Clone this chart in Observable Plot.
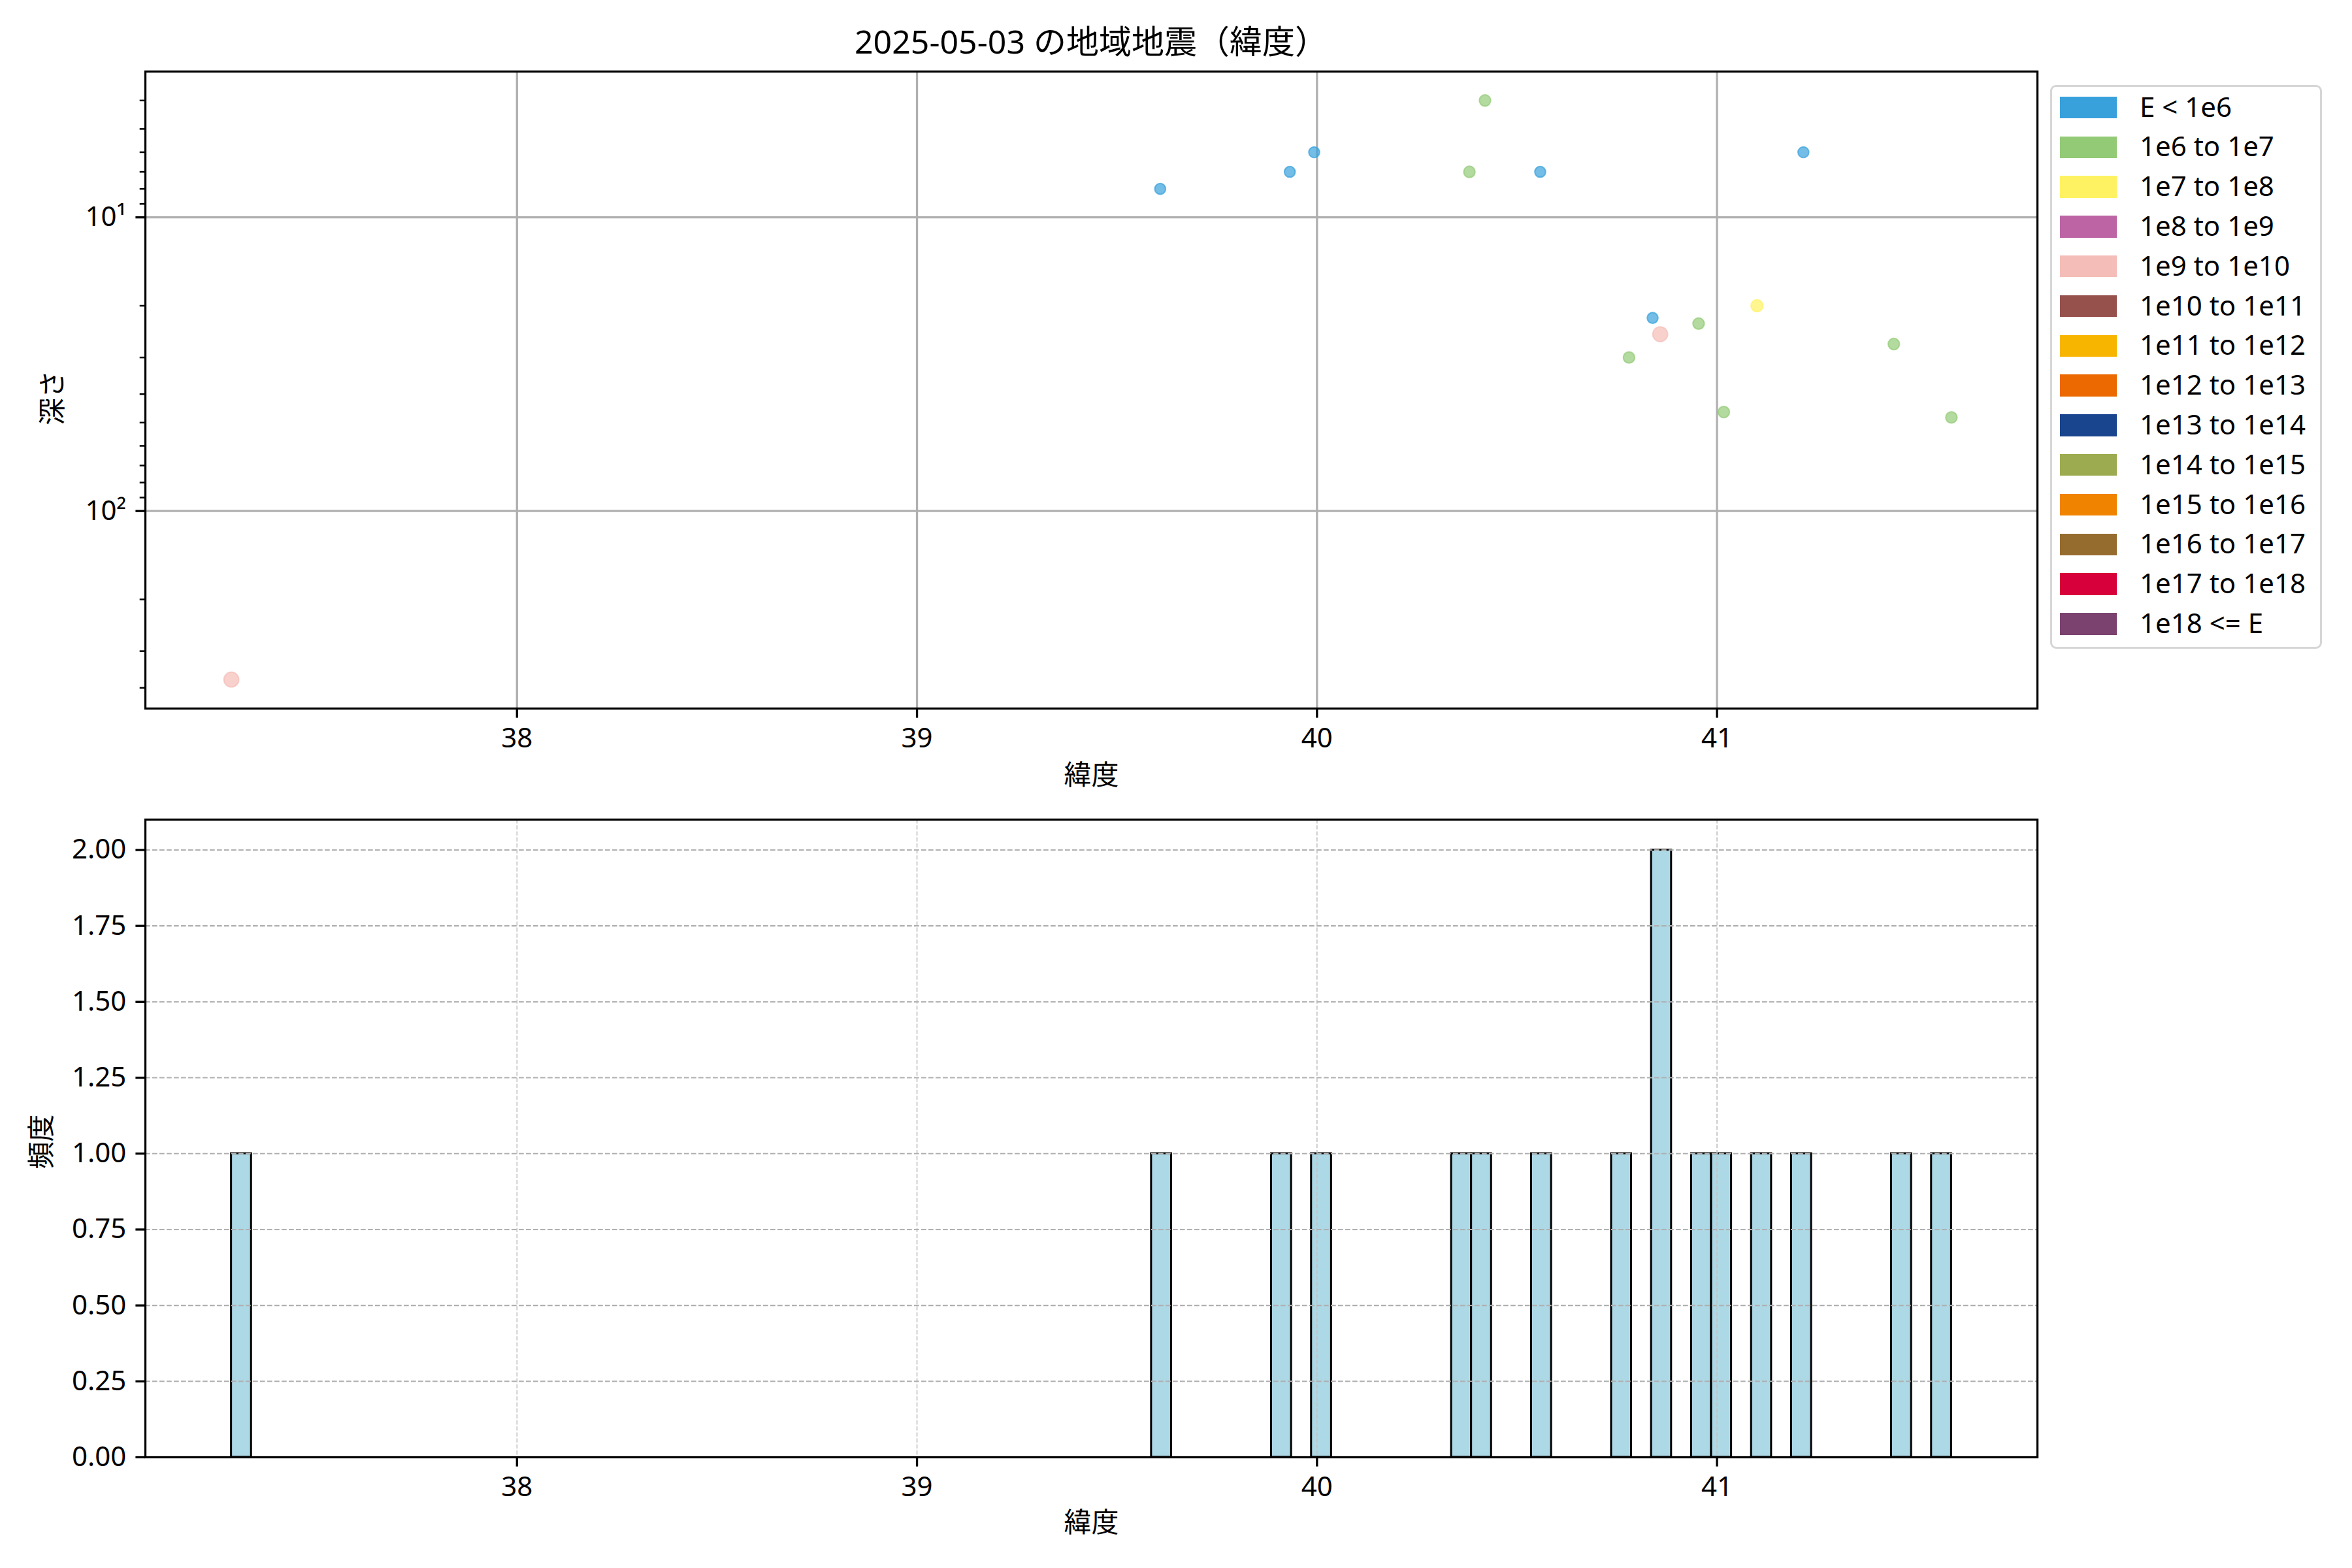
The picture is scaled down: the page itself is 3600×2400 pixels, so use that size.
<!DOCTYPE html>
<html>
<head>
<meta charset="utf-8">
<script src="https://cdn.jsdelivr.net/npm/d3@7"></script>
<script src="https://cdn.jsdelivr.net/npm/@observablehq/plot@0.6"></script>
<style>
  html, body { margin: 0; padding: 0; background: #fff; }
  #root { position: relative; width: 3600px; height: 2400px; background: #fff; overflow: hidden;
          font-family: "Noto Sans", "Noto Sans CJK JP", sans-serif; color: #000; }
  .abs { position: absolute; }
</style>
</head>
<body>
<div id="root"></div>
<script>
// ---------------- data ----------------
const titleText = "2025-05-03 の地域地震（緯度）";
const xLabel = "緯度";
const yLabelTop = "深さ";
const yLabelBottom = "頻度";

const latitude = [37.286, 39.608, 39.932, 39.993, 40.381, 40.420, 40.558, 40.780,
                  40.839, 40.858, 40.954, 41.017, 41.100, 41.216, 41.442, 41.586];
const depth    = [375, 8, 7, 6, 7, 4, 7, 30,
                  22, 25, 23, 46, 20, 6, 27, 48];
const energyClass = ["1e9 to 1e10", "E < 1e6", "E < 1e6", "E < 1e6", "1e6 to 1e7", "1e6 to 1e7", "E < 1e6", "1e6 to 1e7",
                     "E < 1e6", "1e9 to 1e10", "1e6 to 1e7", "1e6 to 1e7", "1e7 to 1e8", "E < 1e6", "1e6 to 1e7", "1e6 to 1e7"];

const classNames = ["E < 1e6", "1e6 to 1e7", "1e7 to 1e8", "1e8 to 1e9", "1e9 to 1e10", "1e10 to 1e11",
                    "1e11 to 1e12", "1e12 to 1e13", "1e13 to 1e14", "1e14 to 1e15", "1e15 to 1e16",
                    "1e16 to 1e17", "1e17 to 1e18", "1e18 <= E"];
const classColors = ["#38a1db", "#93ca76", "#fff262", "#bc64a4", "#f5bdb8", "#96514d",
                     "#f8b500", "#ec6800", "#19448e", "#9cab4f", "#f08300",
                     "#966c2e", "#d7003a", "#7b4270"];

const xTicks = [38, 39, 40, 41];
const yMajorTop = [10, 100];
const yMinorTop = [4, 5, 6, 7, 8, 9, 20, 30, 40, 50, 60, 70, 80, 90, 200, 300, 400];
const yTicksBottom = [0, 0.25, 0.5, 0.75, 1.0, 1.25, 1.5, 1.75, 2.0];
const binWidth = 0.05;

// ---------------- styling ----------------
const FONT = '"Noto Sans", "Noto Sans CJK JP", sans-serif';
const FS = 42;
const SPINE = 3.3;
const TICK = 14.6;
const markerRadius = {"E < 1e6": 8.3, "1e6 to 1e7": 8.7, "1e7 to 1e8": 9.2, "1e9 to 1e10": 11.4};

const root = document.getElementById("root");
function addDiv(text, css) {
  const d = document.createElement("div");
  d.className = "abs";
  d.textContent = text;
  Object.assign(d.style, css);
  root.appendChild(d);
  return d;
}

// title
addDiv(titleText, {left: "0px", width: "3340px", top: "31px", textAlign: "center",
                   fontSize: "50px", lineHeight: "64px", whiteSpace: "nowrap"});

// shared x domain (matplotlib 5% margins)
const latMin = d3.min(latitude), latMax = d3.max(latitude);
const xPad = 0.05 * (latMax - latMin);
const xDomain = [latMin - xPad, latMax + xPad];

const rows = latitude.map((v, i) => ({lat: v, depth: depth[i], cls: energyClass[i]}));

// log y domain with 5% margins in log space
const lmin = Math.log10(d3.min(depth)), lmax = Math.log10(d3.max(depth));
const lpad = 0.05 * (lmax - lmin);
const yDomainTop = [Math.pow(10, lmin - lpad), Math.pow(10, lmax + lpad)];

const sup = {"1": "¹", "2": "²", "3": "³"};

// ---------------- top scatter ----------------
const topChart = Plot.plot({
  width: 3600, height: 1230,
  marginLeft: 222, marginRight: 482, marginTop: 109, marginBottom: 146,
  style: {fontSize: FS + "px", fontFamily: FONT, background: "transparent", color: "#000"},
  x: {domain: xDomain},
  y: {type: "log", domain: yDomainTop, reverse: true},
  color: {domain: classNames, range: classColors},
  r: {type: "identity"},
  marks: [
    Plot.gridX(xTicks, {stroke: "#b0b0b0", strokeOpacity: 1, strokeWidth: SPINE}),
    Plot.gridY(yMajorTop, {stroke: "#b0b0b0", strokeOpacity: 1, strokeWidth: SPINE}),
    Plot.dot(rows, {x: "lat", y: "depth", fill: "cls", stroke: "cls",
                    r: d => markerRadius[d.cls] || 9,
                    fillOpacity: 0.7, strokeOpacity: 0.7, strokeWidth: 2}),
    Plot.frame({stroke: "#000", strokeWidth: SPINE}),
    Plot.axisX(xTicks, {tickSize: TICK, tickPadding: 14.6, strokeWidth: SPINE, label: null,
                        tickFormat: d => String(d)}),
    Plot.axisY(yMajorTop, {tickSize: TICK, tickPadding: 14.6, strokeWidth: SPINE, label: null,
                           tickFormat: d => "10" + sup[String(Math.round(Math.log10(d)))]}),
    Plot.axisY(yMinorTop, {tickSize: 8.3, strokeWidth: 2.5, label: null, tickFormat: () => ""}),
    Plot.text([xLabel], {frameAnchor: "bottom", dy: 116, fontSize: FS, textAnchor: "middle"}),
    Plot.text([yLabelTop], {frameAnchor: "left", dx: -141, dy: 12, rotate: -90, fontSize: FS, textAnchor: "middle"})
  ]
});
topChart.style.position = "absolute";
topChart.style.left = "0px";
topChart.style.top = "0px";
root.appendChild(topChart);

// ---------------- legend ----------------
const legendBox = document.createElement("div");
legendBox.className = "abs";
Object.assign(legendBox.style, {left: "3138px", top: "130px", width: "416px", height: "863px",
  boxSizing: "border-box", border: "3px solid #d6d6d6", borderRadius: "9px", background: "rgba(255,255,255,0.8)"});
root.appendChild(legendBox);
classNames.forEach((name, i) => {
  const cy = 164.5 + i * 60.8;
  const sw = document.createElement("div");
  sw.className = "abs";
  Object.assign(sw.style, {left: "3153px", top: (cy - 16.7) + "px", width: "87px", height: "33.4px",
                           background: classColors[i]});
  root.appendChild(sw);
  addDiv(name, {left: "3275px", top: (cy - 32) + "px", height: "60px", lineHeight: "60px",
                fontSize: FS + "px", whiteSpace: "nowrap"});
});

// ---------------- bottom histogram ----------------
const nBins = Math.round((latMax - latMin) / binWidth);
const step = (latMax - latMin) / nBins;
const bins = d3.bin()
  .domain([latMin, latMax])
  .thresholds(d3.range(1, nBins).map(i => latMin + i * step))(latitude);

const bottomChart = Plot.plot({
  width: 3600, height: 1200,
  marginLeft: 222, marginRight: 482, marginTop: 54, marginBottom: 170,
  style: {fontSize: FS + "px", fontFamily: FONT, background: "transparent", color: "#000"},
  x: {domain: xDomain},
  y: {domain: [0, 2.1]},
  marks: [
    Plot.rectY(bins.filter(b => b.length > 0), {x1: "x0", x2: "x1", y: d => d.length,
      fill: "#add8e6", stroke: "#000", strokeWidth: 3, inset: 0}),
    Plot.ruleY([0], {x1: latMin, x2: latMax, stroke: "#000", strokeWidth: 3}),
    Plot.gridX(xTicks, {stroke: "#c4c4c4", strokeOpacity: 1, strokeWidth: 1.7, strokeDasharray: "6.4,2.8"}),
    Plot.gridY(yTicksBottom, {stroke: "#b0b0b0", strokeOpacity: 1, strokeWidth: 2.1, strokeDasharray: "7.7,3.3"}),
    Plot.frame({stroke: "#000", strokeWidth: SPINE}),
    Plot.axisX(xTicks, {tickSize: TICK, tickPadding: 14.6, strokeWidth: SPINE, label: null,
                        tickFormat: d => String(d)}),
    Plot.axisY(yTicksBottom, {tickSize: TICK, tickPadding: 14.6, strokeWidth: SPINE, label: null,
                              tickFormat: d => d.toFixed(2)}),
    Plot.text([xLabel], {frameAnchor: "bottom", dy: 114, fontSize: FS, textAnchor: "middle"}),
    Plot.text([yLabelBottom], {frameAnchor: "left", dx: -158, dy: 5, rotate: -90, fontSize: FS, textAnchor: "middle"})
  ]
});
bottomChart.style.position = "absolute";
bottomChart.style.left = "0px";
bottomChart.style.top = "1200px";
root.appendChild(bottomChart);
</script>
</body>
</html>
